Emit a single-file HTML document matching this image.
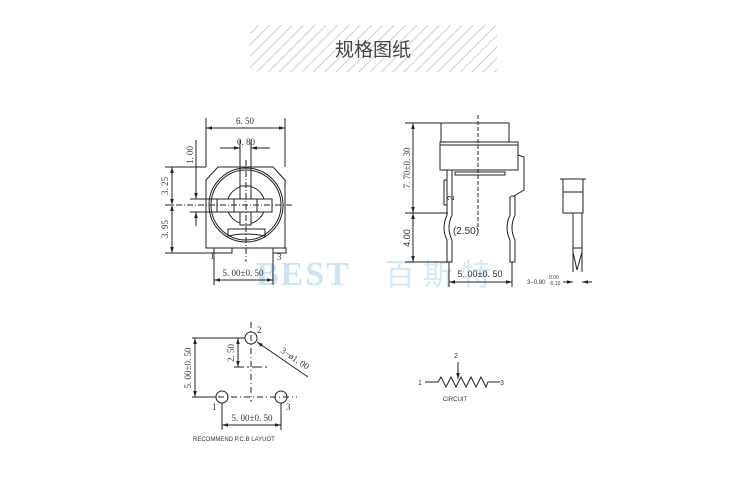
<!DOCTYPE html>
<html><head><meta charset="utf-8"><style>
html,body{margin:0;padding:0;background:#fff;}
svg{display:block}
text{font-family:"Liberation Serif","DejaVu Serif",serif;fill:#333;}
</style></head><body>
<svg width="750" height="484" viewBox="0 0 750 484" xmlns="http://www.w3.org/2000/svg">
<defs>
<pattern id="hatch" width="8" height="8" patternUnits="userSpaceOnUse" patternTransform="rotate(45)">
<rect width="8" height="8" fill="#fff"/><line x1="0" y1="0" x2="0" y2="8" stroke="#d0d0d0" stroke-width="2"/></pattern>
<marker id="a" viewBox="0 0 10 10" refX="10" refY="5" markerWidth="6" markerHeight="6" orient="auto-start-reverse"><path d="M0,2 L10,5 L0,8z" fill="#222"/></marker>
</defs>
<rect x="250" y="25" width="247" height="47" fill="url(#hatch)"/>
<text x="373" y="56" text-anchor="middle" font-size="19" style="font-family:'Liberation Sans','Noto Sans CJK SC',sans-serif;fill:#444">规格图纸</text>

<!-- watermark -->
<text x="256" y="285" font-size="34" font-weight="bold" letter-spacing="2" style="font-family:'Liberation Serif',serif;fill:#cfe3f3">BEST</text>
<text x="385" y="285" font-size="30" letter-spacing="8" style="font-family:'Liberation Sans','Noto Sans CJK SC',sans-serif;fill:#d6e8f5">百斯特</text>

<g stroke="#222" stroke-width="1" fill="none">
<!-- front view -->
<path d="M206,180 L218,167 L273,167 L285,180 L285,248 L206,248 Z"/>
<circle cx="246" cy="205" r="37"/>
<circle cx="246" cy="205" r="35"/>
<circle cx="246" cy="205" r="19"/>
<rect x="217" y="199" width="55" height="13" fill="#fff"/>
<line x1="234" y1="199" x2="234" y2="212"/><line x1="257" y1="199" x2="257" y2="212"/>
<rect x="240" y="186" width="11" height="13" fill="#fff"/><rect x="240" y="212" width="11" height="13" fill="#fff"/>
<path d="M228,236 L228,229 L265,229 L265,236 Q246,232 228,236Z"/>
<rect x="214" y="248" width="18" height="5"/><rect x="273" y="248" width="13" height="5"/>
<line x1="206" y1="118" x2="206" y2="167"/><line x1="285" y1="118" x2="285" y2="167"/>
<line x1="206" y1="128" x2="285" y2="128" marker-start="url(#a)" marker-end="url(#a)"/>
<line x1="240" y1="140" x2="240" y2="190"/><line x1="251" y1="140" x2="251" y2="190"/>
<line x1="220" y1="148" x2="240" y2="148" marker-end="url(#a)"/><line x1="270" y1="148" x2="251" y2="148" marker-end="url(#a)"/>
<line x1="165" y1="167" x2="206" y2="167"/><line x1="165" y1="253" x2="214" y2="253"/>
<line x1="190" y1="199" x2="217" y2="199"/><line x1="190" y1="212" x2="217" y2="212"/>
<line x1="196" y1="140" x2="196" y2="199" marker-end="url(#a)"/><line x1="196" y1="226" x2="196" y2="212" marker-end="url(#a)"/>
<line x1="172" y1="167" x2="172" y2="205" marker-start="url(#a)" marker-end="url(#a)"/>
<line x1="172" y1="205" x2="172" y2="253" marker-start="url(#a)" marker-end="url(#a)"/>
<line x1="165" y1="205" x2="292" y2="205" stroke-dasharray="6,2,1,2"/>
<line x1="246" y1="160" x2="246" y2="262" stroke-dasharray="6,2,1,2"/>
<line x1="214" y1="253" x2="214" y2="285"/><line x1="273" y1="253" x2="273" y2="285"/>
<line x1="214" y1="280" x2="273" y2="280" marker-start="url(#a)" marker-end="url(#a)"/>

<!-- side view -->
<rect x="441" y="123" width="68" height="19"/>
<rect x="440" y="142" width="78" height="28"/>
<line x1="440" y1="145" x2="518" y2="145"/>
<rect x="455" y="172" width="50" height="3"/>
<path d="M518,155 L524,157 L524,190 L514,196 L511,196"/>
<path d="M447,170 L447,215 Q441,228 447,240 L447,262 L452,262 L452,240 Q446,228 452,215 L452,170"/>
<path d="M444,180 L447,180 M444,180 L444,205 L447,205"/>
<path d="M510,196 L510,215 Q504,228 510,240 L510,262 L515,262 L515,240 Q509,228 515,215 L515,196"/>
<line x1="405" y1="123" x2="441" y2="123"/><line x1="405" y1="213" x2="448" y2="213"/><line x1="405" y1="262" x2="450" y2="262"/>
<line x1="413" y1="123" x2="413" y2="213" marker-start="url(#a)" marker-end="url(#a)"/>
<line x1="413" y1="213" x2="413" y2="262" marker-start="url(#a)" marker-end="url(#a)"/>
<line x1="478" y1="115" x2="478" y2="232" stroke-dasharray="4,2"/>
<line x1="449" y1="262" x2="449" y2="287"/><line x1="512" y1="262" x2="512" y2="287"/>
<line x1="449" y1="282" x2="512" y2="282" marker-start="url(#a)" marker-end="url(#a)"/>
<!-- small profile -->
<line x1="560" y1="179" x2="586" y2="179"/>
<rect x="563" y="179" width="20" height="34"/>
<line x1="563" y1="192" x2="583" y2="192"/>
<path d="M573,213 L573,272 M582,213 L582,272 M573,252 L577,270 L582,252 M573,248 L582,248"/>
<line x1="563" y1="282" x2="573" y2="282" marker-end="url(#a)"/><line x1="592" y1="282" x2="582" y2="282" marker-end="url(#a)"/>

<!-- PCB -->
<circle cx="251" cy="338" r="6"/><circle cx="222" cy="397" r="6"/><circle cx="281" cy="397" r="6"/>
<line x1="192" y1="338" x2="245" y2="338"/><line x1="192" y1="397" x2="216" y2="397"/>
<line x1="195" y1="338" x2="195" y2="397" marker-start="url(#a)" marker-end="url(#a)"/>
<line x1="238" y1="338" x2="238" y2="367" marker-start="url(#a)" marker-end="url(#a)"/>
<line x1="234" y1="367" x2="268" y2="367" stroke-dasharray="10,3,2,3"/>
<line x1="251" y1="322" x2="251" y2="402" stroke-dasharray="6,3,1,3"/>
<line x1="205" y1="397" x2="297" y2="397" stroke-dasharray="6,3,1,3"/>
<line x1="308" y1="377" x2="257" y2="342" marker-end="url(#a)"/>
<line x1="222" y1="403" x2="222" y2="430"/><line x1="281" y1="403" x2="281" y2="430"/>
<line x1="222" y1="425" x2="281" y2="425" marker-start="url(#a)" marker-end="url(#a)"/>

<!-- circuit -->
<path d="M425,382 L438,382 L441,377 L446,387 L451,377 L456,387 L461,377 L466,387 L471,377 L476,387 L481,377 L486,387 L488,382 L500,382"/>
<line x1="458" y1="362" x2="458" y2="379" marker-end="url(#a)"/>
</g>

<g font-size="9">
<text x="245" y="124" text-anchor="middle">6. 50</text>
<text x="246" y="145" text-anchor="middle">0. 80</text>
<text x="210" y="259" font-size="9">1</text>
<text x="277" y="260" font-size="9">3</text>
<text x="243" y="276" text-anchor="middle">5. 00±0. 50</text>
<text transform="translate(193,155) rotate(-90)" text-anchor="middle">1. 00</text>
<text transform="translate(168,186) rotate(-90)" text-anchor="middle">3. 25</text>
<text transform="translate(168,229) rotate(-90)" text-anchor="middle">3. 95</text>
<text transform="translate(410,168) rotate(-90)" text-anchor="middle">7. 70±0. 30</text>
<text transform="translate(410,238) rotate(-90)" text-anchor="middle" style="font-family:'Liberation Sans',sans-serif">4.00</text>
<text transform="translate(454,198) rotate(-90)" text-anchor="middle" style="font-family:'Liberation Sans',sans-serif">2</text>
<text x="466" y="234" text-anchor="middle" font-size="10" style="font-family:'Liberation Sans',sans-serif">(2.50)</text>
<text x="480" y="277" text-anchor="middle" style="font-family:'Liberation Sans',sans-serif">5. 00±0. 50</text>
<text x="527" y="284" font-size="6" style="font-family:'Liberation Sans',sans-serif">3−0.80</text>
<text x="549" y="279" font-size="5" style="font-family:'Liberation Sans',sans-serif">0.00</text>
<text x="549" y="285" font-size="5" style="font-family:'Liberation Sans',sans-serif">-0.10</text>
<text x="257" y="333">2</text>
<text x="212" y="410">1</text>
<text x="286" y="410">3</text>
<text transform="translate(191,368) rotate(-90)" text-anchor="middle">5. 00±0. 50</text>
<text transform="translate(234,353) rotate(-90)" text-anchor="middle">2. 50</text>
<text transform="translate(280,352) rotate(34)">3−ø1. 00</text>
<text x="252" y="421" text-anchor="middle">5. 00±0. 50</text>
<text x="193" y="441" font-size="6" style="font-family:'Liberation Sans',sans-serif">RECOMMEND P.C.B LAYUOT</text>
<text x="456" y="358" text-anchor="middle" font-size="7" style="font-family:'Liberation Sans',sans-serif">2</text>
<text x="418" y="385" font-size="7" style="font-family:'Liberation Sans',sans-serif">1</text>
<text x="500" y="385" font-size="7" style="font-family:'Liberation Sans',sans-serif">3</text>
<text x="455" y="401" text-anchor="middle" font-size="6" style="font-family:'Liberation Sans',sans-serif">CIRCUIT</text>
</g>
</svg>
</body></html>
